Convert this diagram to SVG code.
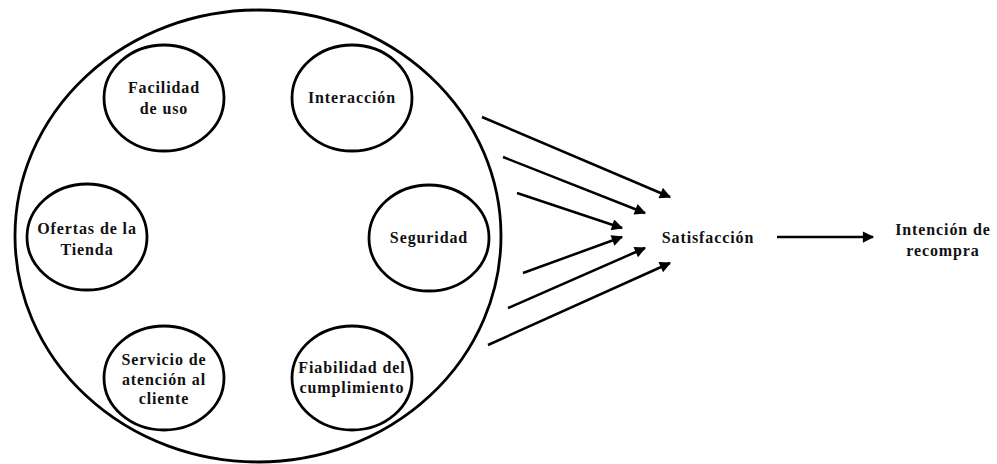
<svg xmlns="http://www.w3.org/2000/svg" width="997" height="464" viewBox="0 0 997 464">
<defs>
<marker id="ah" viewBox="0 0 10 10" refX="9" refY="5" markerWidth="5.5" markerHeight="4.5" orient="auto" markerUnits="strokeWidth">
<path d="M0,0 L10,5 L0,10 z" fill="#000"/>
</marker>
<style>
.c{fill:none;stroke:#000;stroke-width:2.8}
.t{font-family:"Liberation Serif","Times New Roman",serif;font-weight:bold;font-size:16px;letter-spacing:0.9px;fill:#111;text-anchor:middle}
.a{stroke:#000;stroke-width:2.5;fill:none;marker-end:url(#ah)}
</style>
</defs>
<rect width="997" height="464" fill="#fff"/>
<g id="outer"><ellipse class="c" cx="258" cy="236" rx="243" ry="226"/></g>
<g id="facilidad"><ellipse class="c" cx="164" cy="98" rx="60" ry="53"/><text class="t" x="164" y="93">Facilidad</text><text class="t" x="164" y="114">de uso</text></g>
<g id="interaccion"><ellipse class="c" cx="352" cy="98" rx="60" ry="53"/><text class="t" x="352" y="103">Interacción</text></g>
<g id="ofertas"><ellipse class="c" cx="87" cy="237" rx="60" ry="53"/><text class="t" x="87" y="234">Ofertas de la</text><text class="t" x="87" y="255">Tienda</text></g>
<g id="seguridad"><ellipse class="c" cx="429" cy="238" rx="60" ry="53"/><text class="t" x="429" y="243">Seguridad</text></g>
<g id="servicio"><ellipse class="c" cx="164" cy="378" rx="60" ry="52"/><text class="t" x="164" y="365">Servicio de</text><text class="t" x="164" y="385">atención al</text><text class="t" x="164" y="404">cliente</text></g>
<g id="fiabilidad"><ellipse class="c" cx="352" cy="378" rx="60" ry="52"/><text class="t" x="352" y="373">Fiabilidad del</text><text class="t" x="352" y="393">cumplimiento</text></g>
<g id="satisfaccion"><text class="t" x="708" y="243">Satisfacción</text></g>
<g id="intencion"><text class="t" x="943" y="235">Intención de</text><text class="t" x="943" y="256">recompra</text></g>
<g id="connectors">
<line class="a" x1="482" y1="117" x2="670" y2="197"/>
<line class="a" x1="503" y1="157" x2="645" y2="213"/>
<line class="a" x1="517" y1="193" x2="622" y2="228"/>
<line class="a" x1="523" y1="273" x2="622" y2="237"/>
<line class="a" x1="508" y1="308" x2="645" y2="248"/>
<line class="a" x1="488" y1="345" x2="670" y2="263"/>
<line class="a" x1="777" y1="237" x2="873" y2="237"/>
</g>
</svg>
